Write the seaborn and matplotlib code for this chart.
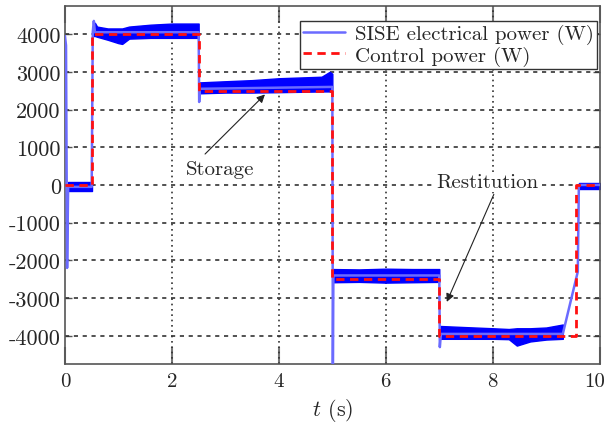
import numpy as np
import pandas as pd
import seaborn as sns
import matplotlib.pyplot as plt
import matplotlib.transforms as mtrans

# ── data ──────────────────────────────────────────────────────────────────
# control power reference (step, value holds until next time)
ctrl_t = [0.0, 0.5, 2.5, 5.0, 7.0, 9.55, 10.0]
ctrl_p = [0, 4000, 2500, -2500, -4000, 0, 0]

# SISE electrical power: centre trace with the transients
sise_t = [0.00, 0.02, 0.04, 0.06, 0.50, 0.52, 0.54, 0.56, 2.50, 2.51, 2.52,
          5.00, 5.01, 5.02, 7.00, 7.01, 7.03, 9.31, 9.59, 9.61, 10.0]
sise_p = [3950, 3700, -2200, -50, -50, 4050, 4350, 4050, 4050, 2200, 2550,
          2600, -4750, -2400, -2400, -4300, -3950, -3950, -2300, 0, 0]

# SISE noise band (lower / upper envelope) on each plateau
band_t = [
    [0.06, 0.25, 0.50],
    [0.52, 0.56, 0.60, 0.80, 1.00, 1.07, 1.20, 1.60, 2.00, 2.50],
    [2.52, 3.00, 3.50, 4.00, 4.40, 4.80, 4.95, 5.00],
    [5.02, 5.50, 6.00, 6.50, 7.00],
    [7.02, 7.50, 8.00, 8.30, 8.45, 8.70, 9.00, 9.31],
    [9.61, 9.80, 10.0],
]
band_lo = [
    [-150, -150, -150],
    [3950, 3950, 3930, 3850, 3760, 3740, 3880, 3900, 3900, 3900],
    [2430, 2450, 2450, 2460, 2470, 2480, 2480, 2480],
    [-2580, -2570, -2590, -2580, -2570],
    [-4080, -4080, -4080, -4090, -4260, -4150, -4100, -4080],
    [-100, -100, -100],
]
band_hi = [
    [80, 80, 80],
    [4150, 4300, 4200, 4150, 4150, 4150, 4200, 4250, 4280, 4280],
    [2720, 2750, 2780, 2830, 2850, 2870, 3000, 2950],
    [-2230, -2240, -2220, -2230, -2230],
    [-3740, -3770, -3800, -3820, -3800, -3800, -3780, -3700],
    [60, 60, 60],
]

# annotations
notes = ["Storage", "Restitution"]
note_xy = [(3.74, 2400), (7.14, -3100)]     # arrow heads
note_text = [(2.90, 430), (7.90, 80)]        # text centres
note_tail = [(2.62, 820), (8.02, -250)]      # arrow tails

sns.set_theme(style="white")
plt.rcParams["font.family"] = ["cmr10", "DejaVu Serif"]
plt.rcParams["mathtext.fontset"] = "cm"
plt.rcParams["axes.unicode_minus"] = False

fig = plt.figure(figsize=(6.07, 4.27), dpi=100)
ax = fig.add_axes([0.107, 0.145, 0.881, 0.839])

# ── noise bands ───────────────────────────────────────────────────────────
for t, lo, hi in zip(band_t, band_lo, band_hi):
    ax.fill_between(t, lo, hi, color="#0000ff", lw=1.0, zorder=2)

sise = pd.DataFrame({"t": sise_t, "p": sise_p})
sns.lineplot(data=sise, x="t", y="p", sort=False, estimator=None,
             color="#6b6bff", lw=1.8, ax=ax, zorder=3,
             label="SISE electrical power (W)")

ctrl = pd.DataFrame({"t": ctrl_t, "p": ctrl_p})
sns.lineplot(data=ctrl, x="t", y="p", estimator=None, drawstyle="steps-post",
             color="#ff1010", lw=2, ls=(0, (3, 2)), ax=ax, zorder=4,
             label="Control power (W)")

# ── annotations ───────────────────────────────────────────────────────────
for txt, head, tail, pos in zip(notes, note_xy, note_tail, note_text):
    ax.annotate("", xy=head, xytext=tail,
                arrowprops=dict(arrowstyle="-|>", color="#222222", lw=0.8,
                                mutation_scale=12, shrinkA=0, shrinkB=0),
                zorder=6)
    ax.text(pos[0], pos[1], txt, ha="center", va="center", fontsize=15,
            zorder=5, bbox=dict(fc="white", ec="none", pad=0.5))

# ── axes cosmetics ────────────────────────────────────────────────────────
ax.set_xlim(0, 10)
ax.set_ylim(-4750, 4750)
ax.set_xticks([0, 2, 4, 6, 8, 10])
ax.set_yticks(np.arange(-4000, 4001, 1000))
ax.set_xlabel("$t$ (s)", fontsize=16, labelpad=4)
ax.set_ylabel("")

for x in [2, 4, 6, 8]:
    ax.axvline(x, color="#333333", lw=1.2, ls=(0, (1, 2.2)), zorder=1)
for y in np.arange(-4000, 4001, 1000):
    ax.axhline(y, color="#333333", lw=1.2, ls=(0, (2.5, 2.8)), zorder=1)

ax.tick_params(axis="x", direction="in", length=12, width=1.5, color="#777777",
               top=True, bottom=True, labelsize=15, pad=6)
ax.tick_params(axis="y", direction="in", length=5, width=1, color="#555555",
               left=True, right=True, labelsize=16, pad=3)
for s in ax.spines.values():
    s.set_color("#555555")
    s.set_linewidth(1.2)

# nudge the last x tick label so it stays inside the figure
last = ax.get_xticklabels()[-1]
last.set_transform(last.get_transform() +
                   mtrans.ScaledTranslation(-4 / 72, 0, fig.dpi_scale_trans))

leg = ax.legend(loc="upper right", bbox_to_anchor=(0.995, 0.957),
                borderaxespad=0, fontsize=15, fancybox=False, framealpha=1,
                edgecolor="#333333", handlelength=2.0, borderpad=0.15,
                labelspacing=0.05, handletextpad=0.5)
leg.get_frame().set_linewidth(1.0)

fig.savefig("out.png", dpi=100)
